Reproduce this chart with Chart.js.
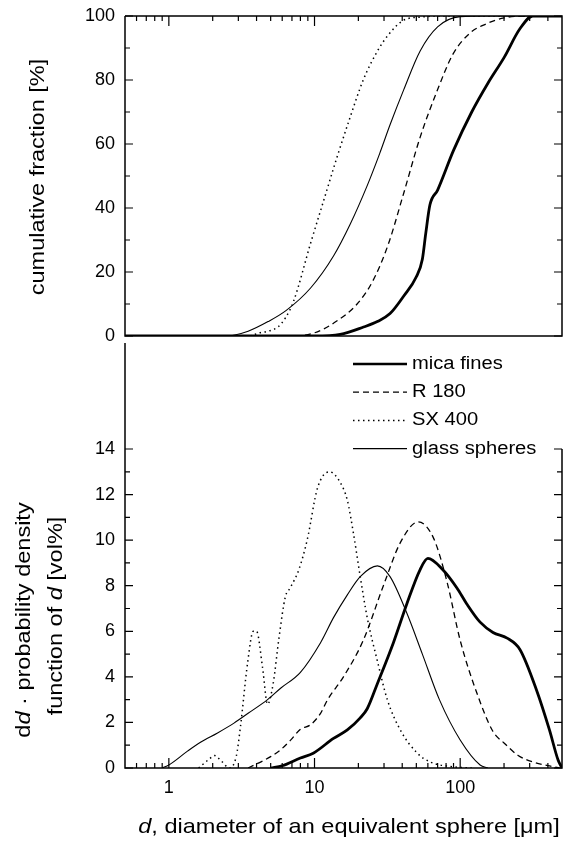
<!DOCTYPE html>
<html>
<head>
<meta charset="utf-8">
<title>Particle size distributions</title>
<script src="https://cdn.jsdelivr.net/npm/chart.js@4.4.1/dist/chart.umd.min.js"></script>
<style>
  html, body { margin: 0; padding: 0; background: #fff; }
  #wrap { position: relative; width: 573px; height: 842px; overflow: hidden; }
  #wrap canvas { position: absolute; left: 0; }
  #cumChart { top: 0; }
  #pdfChart { top: 340px; }
</style>
</head>
<body>
<div id="wrap">
  <canvas id="cumChart" width="573" height="348"></canvas>
  <canvas id="pdfChart" width="573" height="502"></canvas>
</div>
<script>
// Diameter axis (µm), shared by both panels
const X_MIN = 0.5;
const X_MAX = 500;
const xTickLabels = [1, 10, 100];

// Cumulative fraction [%] vs diameter
const micaCumD = [0.5, 10, 15, 21.7, 27, 33, 41, 50, 55, 58, 62, 70, 90, 120, 155, 200, 257, 315, 500];
const micaCum  = [0, 0, 0.5, 2.8, 4.5, 7, 12.5, 18.5, 24, 32, 41, 45.6, 58, 70, 79, 87, 96, 100, 100];

const r180CumD = [0.5, 7, 10, 13.5, 19.6, 25, 32, 41, 53, 70, 89, 117, 150, 200, 290, 500];
const r180Cum  = [0, 0, 1, 4, 10, 17, 28.5, 44.7, 62, 77, 88, 94.7, 97.5, 99.4, 100, 100];

const sx400CumD = [0.5, 3.5, 4.2, 4.8, 5.6, 6.3, 7.2, 9.4, 11.5, 14.3, 17.6, 21.6, 27, 32, 41, 55, 70, 500];
const sx400Cum  = [0, 0, 1, 1.5, 2.8, 5.6, 11, 29, 42, 56, 68.5, 80, 89, 94, 98.7, 99.7, 100, 100];

const glassCumD = [0.5, 2.5, 3.5, 4.8, 6.4, 9.4, 13.5, 17.6, 23, 28, 33, 41, 53, 70, 100, 150, 500];
const glassCum  = [0, 0, 1.5, 4.5, 8, 15, 25, 35, 47, 57, 66, 77, 89, 96.6, 99.8, 100, 100];

// d · probability density function of d [vol%]
const micaPdfD = [5, 6, 8, 9.8, 13.5, 16.8, 20.6, 23, 27, 34.8, 43, 53, 60, 76, 95, 111, 137, 168, 210, 257, 335, 410, 470, 500];
const micaPdf  = [0, 0.1, 0.44, 0.65, 1.3, 1.67, 2.2, 2.6, 3.7, 5.5, 7.2, 8.7, 9.2, 8.7, 7.9, 7.2, 6.4, 5.95, 5.7, 5.2, 3.4, 1.67, 0.35, 0];

const r180PdfD = [3.5, 5, 5.85, 6.8, 8, 9.4, 11, 12.3, 15.8, 21.6, 29.7, 38.9, 51.5, 65.5, 81, 100, 130, 168, 200, 250, 320, 400, 480];
const r180Pdf  = [0, 0.5, 0.8, 1.2, 1.7, 1.9, 2.4, 3.0, 4.0, 5.6, 8.0, 9.9, 10.8, 10.1, 8.2, 5.6, 3.3, 1.6, 1.1, 0.55, 0.25, 0.1, 0];

const sx400PdfD = [1.6, 1.9, 2.05, 2.3, 2.6, 2.9, 3.1, 3.47, 3.8, 4.0, 4.4, 4.76, 5.2, 5.7, 6.3, 6.8, 7.8, 8.9, 10.5, 12.7, 15.1, 16.8, 18.5, 20.6, 23, 27, 31.6, 38.8, 50.6, 62.5, 90, 120];
const sx400Pdf  = [0, 0.4, 0.55, 0.3, 0, 0.5, 1.8, 4.6, 6.0, 6.0, 4.4, 2.8, 3.7, 5.7, 7.5, 7.9, 8.7, 10.0, 12.3, 13.0, 12.5, 11.75, 10.3, 8.4, 6.6, 4.7, 3.0, 1.67, 0.66, 0.26, 0.05, 0];

const glassPdfD = [0.9, 1.0, 1.35, 1.66, 2.16, 2.8, 3.5, 4.76, 5.85, 8, 11, 13.5, 16.8, 20.6, 27, 33, 43, 55, 72, 100, 137, 155];
const glassPdf  = [0, 0.13, 0.75, 1.14, 1.54, 1.97, 2.4, 3.0, 3.5, 4.2, 5.5, 6.6, 7.6, 8.4, 8.87, 8.4, 6.8, 5.0, 3.0, 1.23, 0.13, 0];

const seriesNames = ['mica fines', 'R 180', 'SX 400', 'glass spheres'];

const FONT = '"Liberation Sans", Arial, Helvetica, sans-serif';
const TEXT_STRETCH = 1.12;

const lineStyles = [
  { width: 2.8, dash: [] },        // mica fines
  { width: 1.3, dash: [6, 4] },    // R 180
  { width: 1.5, dash: [1.5, 3.5] },// SX 400
  { width: 1.1, dash: [] }         // glass spheres
];

// minor ticks on the log axis: 2..9 of every decade
const xMinorTicks = [];
[0.1, 1, 10, 100].forEach(dec => {
  for (let k = 1; k <= 9; k++) {
    const v = k * dec;
    if (v > X_MIN * 1.01 && v < X_MAX * 0.99) xMinorTicks.push(v);
  }
});

function makeSeries(i, d, v) {
  return {
    label: seriesNames[i],
    data: d.map((x, j) => ({ x: x, y: v[j] })),
    borderColor: '#000',
    borderWidth: lineStyles[i].width,
    borderDash: lineStyles[i].dash,
    pointRadius: 0,
    cubicInterpolationMode: 'monotone',
    fill: false
  };
}

// text with mixed upright/italic parts, centred on (x, y)
function drawRichText(ctx, parts, x, y, angle, size) {
  ctx.save();
  ctx.translate(x, y);
  ctx.rotate(angle);
  ctx.scale(TEXT_STRETCH, 1);
  ctx.fillStyle = '#000';
  ctx.textBaseline = 'middle';
  ctx.textAlign = 'left';
  const fontFor = p => (p.italic ? 'italic ' : '') + size + 'px ' + FONT;
  let total = 0;
  parts.forEach(p => { ctx.font = fontFor(p); total += ctx.measureText(p.text).width; });
  let cx = -total / 2;
  parts.forEach(p => {
    ctx.font = fontFor(p);
    ctx.fillText(p.text, cx, 0);
    cx += ctx.measureText(p.text).width;
  });
  ctx.restore();
}

// frame lines and inward tick marks
const axesFrame = {
  id: 'axesFrame',
  afterDatasetsDraw(chart, args, opts) {
    const { ctx, chartArea: a } = chart;
    const xs = chart.scales.x, ys = chart.scales.y;
    ctx.save();
    ctx.strokeStyle = '#000';
    ctx.lineWidth = 1.5;
    ctx.setLineDash([]);

    ctx.beginPath();
    ctx.moveTo(a.left, opts.leftFrom != null ? opts.leftFrom : a.top);
    ctx.lineTo(a.left, a.bottom);
    ctx.lineTo(a.right, a.bottom);
    ctx.lineTo(a.right, a.top);
    if (opts.closed) ctx.lineTo(a.left, a.top);
    ctx.stroke();

    ctx.lineWidth = 1.2;
    ctx.beginPath();
    // y ticks on both sides
    for (let v = ys.min; v <= ys.max + 1e-9; v += opts.yMinor) {
      const py = ys.getPixelForValue(v);
      const len = Math.abs(v / opts.yMajor - Math.round(v / opts.yMajor)) < 1e-6 ? 8 : 5;
      ctx.moveTo(a.left, py); ctx.lineTo(a.left + len, py);
      ctx.moveTo(a.right, py); ctx.lineTo(a.right - len, py);
    }
    // x ticks along one edge
    const edge = opts.xEdge === 'top' ? a.top : a.bottom;
    const dir = opts.xEdge === 'top' ? 1 : -1;
    xMinorTicks.forEach(v => {
      const px = xs.getPixelForValue(v);
      const len = xTickLabels.includes(v) ? 10 : 5;
      ctx.moveTo(px, edge); ctx.lineTo(px, edge + dir * len);
    });
    ctx.stroke();

    (opts.titles || []).forEach(t => drawRichText(ctx, t.parts, t.x, t.y, t.angle, t.size));
    ctx.restore();
  }
};

// legend between the two panels, one entry per row
const rowLegend = {
  id: 'rowLegend',
  afterDraw(chart, args, opts) {
    const ctx = chart.ctx;
    ctx.save();
    chart.data.datasets.forEach((ds, i) => {
      const y = opts.top + i * opts.rowGap;
      ctx.strokeStyle = '#000';
      ctx.lineWidth = Math.min(ds.borderWidth, 2.4);
      ctx.setLineDash(ds.borderDash);
      ctx.beginPath();
      ctx.moveTo(opts.x, y);
      ctx.lineTo(opts.x + opts.sample, y);
      ctx.stroke();
      ctx.setLineDash([]);
      ctx.save();
      ctx.translate(opts.x + opts.sample + 5, y);
      ctx.scale(TEXT_STRETCH, 1);
      ctx.fillStyle = '#000';
      ctx.font = '18px ' + FONT;
      ctx.textBaseline = 'middle';
      ctx.fillText(ds.label, 0, 0);
      ctx.restore();
    });
    ctx.restore();
  }
};

const tickFont = { family: FONT, size: 18 };

function xScale(show) {
  const scale = {
    type: 'logarithmic',
    min: X_MIN,
    max: X_MAX,
    display: show,
    grid: { display: false, drawTicks: false },
    border: { display: false },
    afterBuildTicks(s) { s.ticks = xTickLabels.map(v => ({ value: v })); },
    ticks: {
      color: '#000',
      font: tickFont,
      padding: 9,
      maxRotation: 0,
      autoSkip: false,
      callback: v => String(v)
    }
  };
  scale.afterFit = s => { s.height = show ? 74 : 0; };
  return scale;
}

function yScale(max, step) {
  return {
    min: 0,
    max: max,
    grid: { display: false, drawTicks: false },
    border: { display: false },
    ticks: { stepSize: step, color: '#000', font: tickFont, padding: 10 },
    afterFit(scale) {
      // fixed axis width; end labels may overhang the plot area
      scale.width = 125;
      scale.paddingTop = 0;
      scale.paddingBottom = 0;
    }
  };
}

const commonPlugins = {
  legend: { display: false },
  tooltip: { enabled: false }
};

// Upper panel: cumulative fraction
new Chart(document.getElementById('cumChart'), {
  type: 'line',
  data: {
    datasets: [
      makeSeries(0, micaCumD, micaCum),
      makeSeries(1, r180CumD, r180Cum),
      makeSeries(2, sx400CumD, sx400Cum),
      makeSeries(3, glassCumD, glassCum)
    ]
  },
  options: {
    responsive: false,
    animation: false,
    layout: { padding: { top: 16, right: 11, bottom: 12, left: 0 } },
    scales: { x: xScale(false), y: yScale(100, 20) },
    plugins: Object.assign({}, commonPlugins, {
      axesFrame: {
        closed: true,
        yMinor: 10,
        yMajor: 20,
        xEdge: 'top',
        titles: [
          { parts: [{ text: 'cumulative fraction [%]' }], x: 38, y: 177, angle: -Math.PI / 2, size: 21 }
        ]
      }
    })
  },
  plugins: [axesFrame]
});

// Lower panel: d · probability density
new Chart(document.getElementById('pdfChart'), {
  type: 'line',
  data: {
    datasets: [
      makeSeries(0, micaPdfD, micaPdf),
      makeSeries(1, r180PdfD, r180Pdf),
      makeSeries(2, sx400PdfD, sx400Pdf),
      makeSeries(3, glassPdfD, glassPdf)
    ]
  },
  options: {
    responsive: false,
    animation: false,
    layout: { padding: { top: 109, right: 11, bottom: 0, left: 0 } },
    scales: { x: xScale(true), y: yScale(14, 2) },
    plugins: Object.assign({}, commonPlugins, {
      axesFrame: {
        closed: false,
        leftFrom: 3,
        yMinor: 1,
        yMajor: 2,
        xEdge: 'bottom',
        titles: [
          { parts: [{ text: 'd' }, { text: 'd', italic: true }, { text: ' \u00b7 probability density' }],
            x: 24, y: 280, angle: -Math.PI / 2, size: 21 },
          { parts: [{ text: 'function of ' }, { text: 'd', italic: true }, { text: ' [vol%]' }],
            x: 56, y: 276, angle: -Math.PI / 2, size: 21 },
          { parts: [{ text: 'd', italic: true }, { text: ', diameter of an equivalent sphere [\u03bcm]' }],
            x: 349, y: 487, angle: 0, size: 21 }
        ]
      },
      rowLegend: { x: 353, sample: 54, top: 24, rowGap: 28.2 }
    })
  },
  plugins: [axesFrame, rowLegend]
});
</script>
</body>
</html>
